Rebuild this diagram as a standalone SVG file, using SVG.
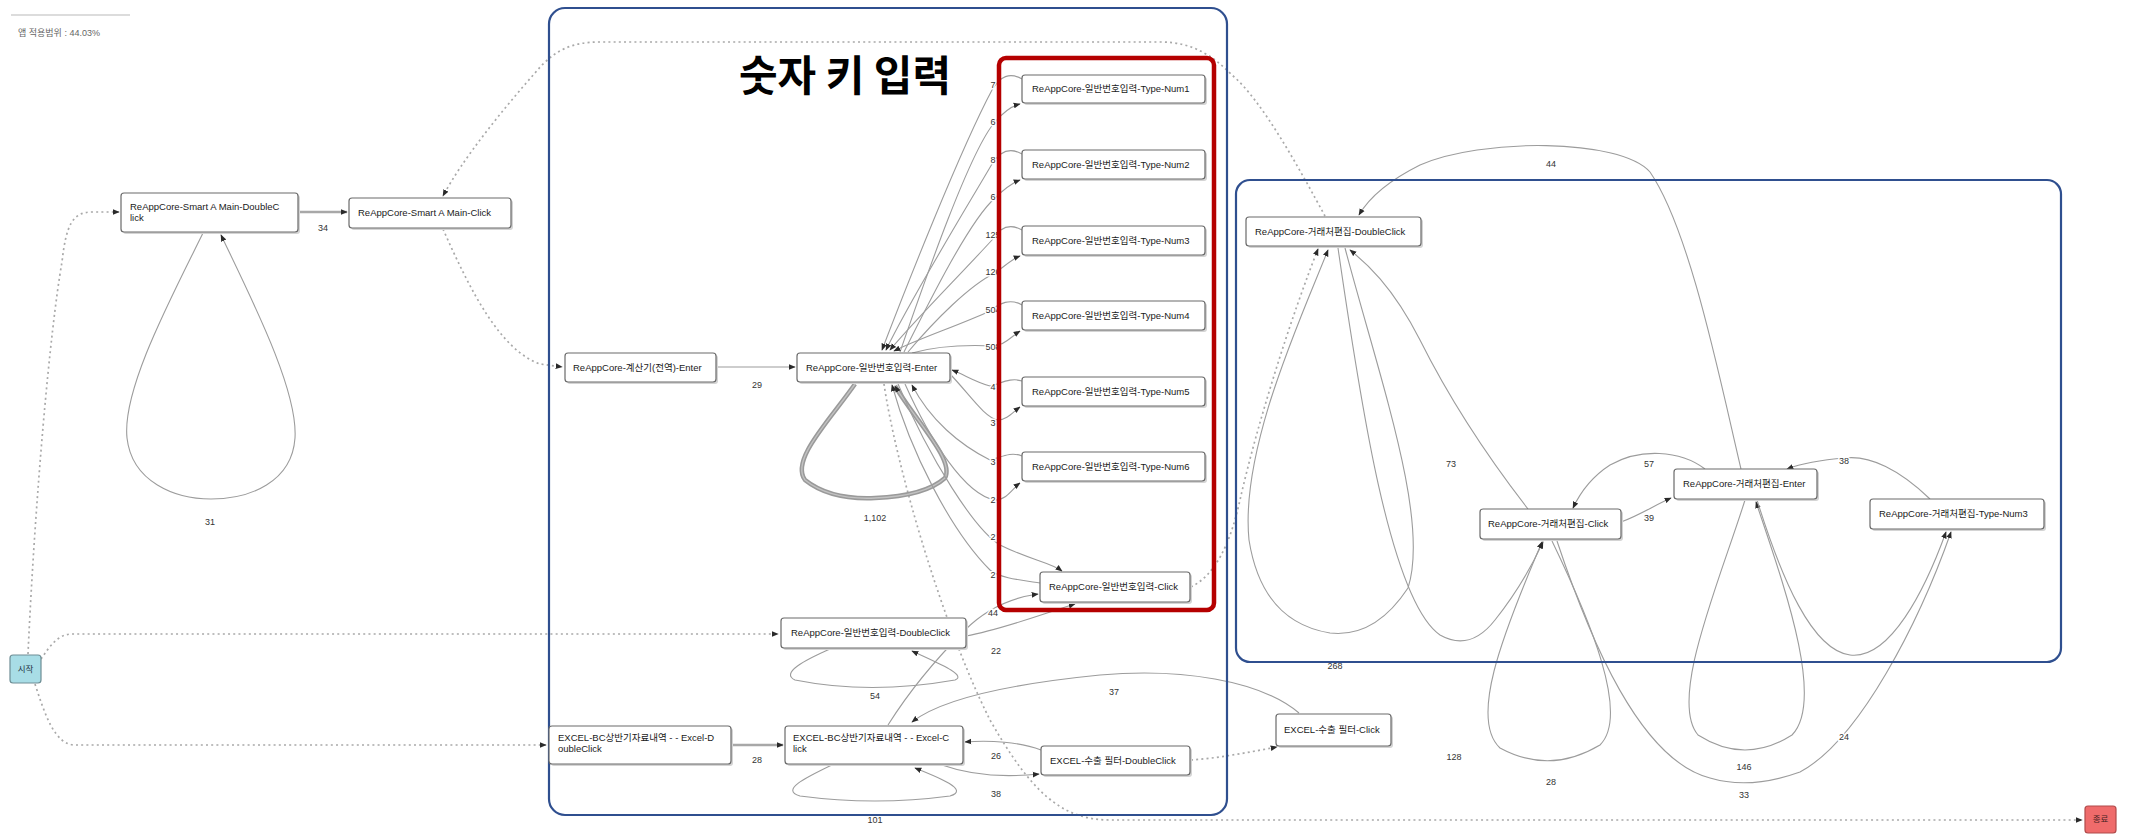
<svg xmlns="http://www.w3.org/2000/svg" width="2131" height="835" viewBox="0 0 2131 835">
<defs>
<marker id="ah" viewBox="0 0 10 10" refX="9" refY="5" markerWidth="7" markerHeight="7" markerUnits="userSpaceOnUse" orient="auto"><path d="M0,1 L10,5 L0,9 z" fill="#2a2a2a"/></marker>
<style>
.e{fill:none;stroke:#9c9c9c;stroke-width:1.1;marker-end:url(#ah)}
.ew{fill:none;stroke:#a8a8a8;stroke-width:2.6;marker-end:url(#ah)}
.d{fill:none;stroke:#a9a9a9;stroke-width:1.7;stroke-dasharray:2 3.2;marker-end:url(#ah)}
.el{font-family:"Liberation Sans","Noto Sans CJK KR",sans-serif;font-size:9px;fill:#333;text-anchor:middle;paint-order:stroke;stroke:#fff;stroke-width:3px}
.s{fill:#d4d4d4}
.b{fill:#fff;stroke:#6a6a6a;stroke-width:1.2}
.nt{font-family:"Liberation Sans","Noto Sans CJK KR",sans-serif;font-size:9.5px;fill:#1a1a1a}
.frame{fill:none;stroke:#2f4f8f;stroke-width:2.2}
</style>
</defs>
<rect width="2131" height="835" fill="#fff"/>
<line x1="11" y1="15" x2="130" y2="15" stroke="#dcdcdc" stroke-width="2"/>
<text x="18" y="36" font-family="Liberation Sans, Noto Sans CJK KR, sans-serif" font-size="9" fill="#666">앱 적용범위 : 44.03%</text>

<g id="connectors">
<path class="d" d="M28,654 C35,500 50,330 62,262 C66,226 72,212 92,212 L119,212"/>
<path class="d" d="M41,659 C50,646 58,634 72,634 L778,634"/>
<path class="d" d="M35,684 C45,715 55,745 75,745 L546,745"/>
<path class="d" d="M443,229 C470,290 500,350 540,364 L562,367"/>
<path class="d" d="M1325,216 C1300,170 1262,100 1232,75 C1212,55 1192,42 1160,42 L600,42 C572,42 557,50 542,65 C502,110 462,160 443,196"/>
<path class="d" d="M1191,587 C1215,575 1230,545 1240,500 C1258,420 1292,315 1318,249"/>
<path class="d" d="M884,384 C895,460 940,620 990,720 C1030,790 1060,820 1110,820 L2082,820"/>
<path class="d" d="M1191,760 C1220,758 1250,752 1277,747"/>

<path class="ew" d="M298,212 L347,212"/>
<path class="e" d="M203,233 C170,300 122,390 127,438 C132,482 175,499 211,499 C250,499 292,482 295,438 C298,390 252,300 221,235"/>
<path class="e" d="M716,367 L795,367"/>

<path d="M855,384 C830,420 790,460 805,480 Q830,500 875,498 Q925,496 945,478 C955,460 915,420 895,386" fill="none" stroke="#9a9a9a" stroke-width="4.5"/>
<path d="M855,384 C830,420 790,460 805,480 Q830,500 875,498 Q925,496 945,478 C955,460 915,420 895,386" fill="none" stroke="#c2c2c2" stroke-width="1.4" marker-end="url(#ah)"/>

<path class="e" d="M1022,79 C1010,72 1000,76 992,90 C960,150 905,290 882,350"/>
<path class="e" d="M900,352 C925,280 970,150 995,122 C1005,110 1012,106 1020,104"/>
<path class="e" d="M1022,154 C1010,147 1000,151 992,164 C965,210 910,300 886,350"/>
<path class="e" d="M904,352 C930,300 970,220 995,198 C1005,188 1012,183 1020,180"/>
<path class="e" d="M1022,230 C1010,223 1000,227 992,240 C960,275 915,320 890,350"/>
<path class="e" d="M908,352 C935,320 970,285 995,273 C1005,266 1012,259 1020,256"/>
<path class="e" d="M1022,305 C1010,298 1000,303 990,311 C960,325 920,338 894,351"/>
<path class="e" d="M912,353 C940,345 975,345 995,346 C1005,345 1012,336 1020,331"/>
<path class="e" d="M1022,381 C1010,377 1000,384 990,386 C975,382 965,375 952,370"/>
<path class="e" d="M951,375 C970,395 985,418 998,420 C1007,420 1013,412 1020,407"/>
<path class="e" d="M1022,456 C1010,451 1000,458 990,460 C960,445 930,420 912,385"/>
<path class="e" d="M905,384 C930,440 965,495 995,500 C1007,500 1013,488 1020,483"/>
<path class="e" d="M898,384 C930,460 975,530 1000,545 C1030,560 1050,562 1062,571"/>
<path class="e" d="M1040,583 C1020,580 1000,578 990,570 C950,530 910,450 892,385"/>
<path class="e" d="M888,725 C910,690 940,655 965,630 C985,610 1010,598 1038,594"/>
<path class="e" d="M966,636 C1000,630 1040,615 1075,604"/>
<path class="e" d="M830,649 C805,660 780,673 795,680 Q870,695 955,680 C968,675 935,662 912,651"/>
<path class="ew" d="M731,745 L783,745"/>
<path class="e" d="M832,765 C805,778 780,790 800,796 Q875,806 950,796 C970,790 940,778 915,768"/>
<path class="e" d="M1299,713 C1260,680 1180,668 1100,675 C1000,685 940,700 912,722"/>
<path class="e" d="M1041,750 C1020,742 990,740 965,742"/>
<path class="e" d="M942,765 C970,775 1000,778 1039,774"/>

<path class="e" d="M1741,469 C1720,380 1690,230 1650,172 C1620,138 1480,138 1420,165 C1390,180 1370,196 1359,215"/>
<path class="e" d="M1345,248 C1380,380 1430,520 1408,588 Q1375,638 1330,633 Q1262,622 1249,540 C1240,450 1300,320 1328,250"/>
<path class="e" d="M1528,509 C1490,460 1450,400 1420,340 C1392,285 1365,262 1350,250"/>
<path class="e" d="M1338,248 C1360,400 1390,600 1440,635 Q1470,652 1495,620 C1515,595 1530,570 1543,542"/>
<path class="e" d="M1705,469 C1680,450 1640,448 1610,465 C1590,478 1580,493 1573,508"/>
<path class="e" d="M1621,522 C1640,515 1655,505 1671,498"/>
<path class="e" d="M1930,499 C1900,470 1870,455 1845,458 C1820,460 1800,464 1787,469"/>
<path class="e" d="M1745,500 C1720,580 1668,700 1698,735 Q1745,765 1792,735 C1826,700 1782,580 1756,502"/>
<path class="e" d="M1757,500 C1782,580 1812,650 1850,655 C1890,660 1925,590 1946,532"/>
<path class="e" d="M1557,541 C1590,640 1640,760 1710,778 Q1750,790 1800,772 C1860,740 1920,620 1951,532"/>
<path class="e" d="M1552,541 C1590,620 1630,715 1600,745 Q1550,775 1500,748 C1470,720 1500,640 1542,542"/>
</g>

<g id="edge-labels">
<text class="el" x="323" y="231">34</text>
<text class="el" x="210" y="525">31</text>
<text class="el" x="757" y="388">29</text>
<text class="el" x="875" y="521">1,102</text>
<text class="el" x="993" y="88">7</text>
<text class="el" x="993" y="125">6</text>
<text class="el" x="993" y="163">8</text>
<text class="el" x="993" y="200">6</text>
<text class="el" x="993" y="238">125</text>
<text class="el" x="993" y="275">126</text>
<text class="el" x="993" y="313">504</text>
<text class="el" x="993" y="350">508</text>
<text class="el" x="993" y="390">4</text>
<text class="el" x="993" y="426">3</text>
<text class="el" x="993" y="465">3</text>
<text class="el" x="993" y="503">2</text>
<text class="el" x="993" y="540">2</text>
<text class="el" x="993" y="578">2</text>
<text class="el" x="993" y="616">44</text>
<text class="el" x="996" y="654">22</text>
<text class="el" x="875" y="699">54</text>
<text class="el" x="757" y="763">28</text>
<text class="el" x="996" y="759">26</text>
<text class="el" x="996" y="797">38</text>
<text class="el" x="875" y="823">101</text>
<text class="el" x="1114" y="695">37</text>
<text class="el" x="1551" y="167">44</text>
<text class="el" x="1451" y="467">73</text>
<text class="el" x="1649" y="467">57</text>
<text class="el" x="1649" y="521">39</text>
<text class="el" x="1844" y="464">38</text>
<text class="el" x="1335" y="669">268</text>
<text class="el" x="1454" y="760">128</text>
<text class="el" x="1551" y="785">28</text>
<text class="el" x="1744" y="770">146</text>
<text class="el" x="1744" y="798">33</text>
<text class="el" x="1844" y="740">24</text>
</g>

<g id="frames">
<rect class="frame" x="549" y="8" width="678" height="807" rx="16"/>
<rect class="frame" x="1236" y="180" width="825" height="482" rx="14"/>
<rect x="999" y="58" width="215" height="552" rx="7" fill="none" stroke="#b50000" stroke-width="4.5"/>
<text x="739" y="91" font-family="Noto Sans CJK KR, sans-serif" font-weight="700" font-size="42" textLength="212" lengthAdjust="spacingAndGlyphs" fill="#000">숫자 키 입력</text>
</g>

<g id="n-start"><rect x="10" y="655" width="31" height="28" rx="3" fill="#a8dde6" stroke="#6e8e95" stroke-width="1.2"/><text x="25.5" y="672" text-anchor="middle" font-family="Noto Sans CJK KR, sans-serif" font-size="8.5" fill="#234">시작</text></g>
<g id="n-end"><rect x="2085" y="806" width="31" height="27" rx="3" fill="#ef6b6b" stroke="#b04a4a" stroke-width="1.2"/><text x="2100.5" y="822" text-anchor="middle" font-family="Noto Sans CJK KR, sans-serif" font-size="8.5" fill="#422">종료</text></g>

<g id="n-smart-dbl"><rect class="s" x="123" y="195" width="177" height="39" rx="3"/><rect class="b" x="121" y="193" width="177" height="39" rx="3"/><text class="nt" x="130" y="210">ReAppCore-Smart A Main-DoubleC</text><text class="nt" x="130" y="221">lick</text></g>
<g id="n-smart-click"><rect class="s" x="351" y="200" width="162" height="30" rx="3"/><rect class="b" x="349" y="198" width="162" height="30" rx="3"/><text class="nt" x="358" y="216">ReAppCore-Smart A Main-Click</text></g>
<g id="n-calc-enter"><rect class="s" x="567" y="355" width="151" height="29" rx="3"/><rect class="b" x="565" y="353" width="151" height="29" rx="3"/><text class="nt" x="573" y="371">ReAppCore-계산기(전역)-Enter</text></g>
<g id="n-num-enter"><rect class="s" x="799" y="355" width="153" height="29" rx="3"/><rect class="b" x="797" y="353" width="153" height="29" rx="3"/><text class="nt" x="806" y="371">ReAppCore-일반번호입력-Enter</text></g>
<g id="n-num1"><rect class="s" x="1024" y="77" width="183" height="28" rx="3"/><rect class="b" x="1022" y="75" width="183" height="28" rx="3"/><text class="nt" x="1032" y="92">ReAppCore-일반번호입력-Type-Num1</text></g>
<g id="n-num2"><rect class="s" x="1024" y="152" width="183" height="29" rx="3"/><rect class="b" x="1022" y="150" width="183" height="29" rx="3"/><text class="nt" x="1032" y="168">ReAppCore-일반번호입력-Type-Num2</text></g>
<g id="n-num3"><rect class="s" x="1024" y="228" width="183" height="29" rx="3"/><rect class="b" x="1022" y="226" width="183" height="29" rx="3"/><text class="nt" x="1032" y="244">ReAppCore-일반번호입력-Type-Num3</text></g>
<g id="n-num4"><rect class="s" x="1024" y="303" width="183" height="29" rx="3"/><rect class="b" x="1022" y="301" width="183" height="29" rx="3"/><text class="nt" x="1032" y="319">ReAppCore-일반번호입력-Type-Num4</text></g>
<g id="n-num5"><rect class="s" x="1024" y="379" width="183" height="29" rx="3"/><rect class="b" x="1022" y="377" width="183" height="29" rx="3"/><text class="nt" x="1032" y="395">ReAppCore-일반번호입력-Type-Num5</text></g>
<g id="n-num6"><rect class="s" x="1024" y="454" width="183" height="29" rx="3"/><rect class="b" x="1022" y="452" width="183" height="29" rx="3"/><text class="nt" x="1032" y="470">ReAppCore-일반번호입력-Type-Num6</text></g>
<g id="n-num-click"><rect class="s" x="1042" y="574" width="150" height="30" rx="3"/><rect class="b" x="1040" y="572" width="150" height="30" rx="3"/><text class="nt" x="1049" y="590">ReAppCore-일반번호입력-Click</text></g>
<g id="n-num-dbl"><rect class="s" x="783" y="620" width="185" height="30" rx="3"/><rect class="b" x="781" y="618" width="185" height="30" rx="3"/><text class="nt" x="791" y="636">ReAppCore-일반번호입력-DoubleClick</text></g>
<g id="n-xl-dbl"><rect class="s" x="551" y="728" width="182" height="38" rx="3"/><rect class="b" x="549" y="726" width="182" height="38" rx="3"/><text class="nt" x="558" y="741">EXCEL-BC상반기자료내역 - - Excel-D</text><text class="nt" x="558" y="752">oubleClick</text></g>
<g id="n-xl-click"><rect class="s" x="787" y="728" width="178" height="38" rx="3"/><rect class="b" x="785" y="726" width="178" height="38" rx="3"/><text class="nt" x="793" y="741">EXCEL-BC상반기자료내역 - - Excel-C</text><text class="nt" x="793" y="752">lick</text></g>
<g id="n-filter-dbl"><rect class="s" x="1043" y="748" width="149" height="29" rx="3"/><rect class="b" x="1041" y="746" width="149" height="29" rx="3"/><text class="nt" x="1050" y="764">EXCEL-수출 필터-DoubleClick</text></g>
<g id="n-filter-click"><rect class="s" x="1278" y="716" width="115" height="32" rx="3"/><rect class="b" x="1276" y="714" width="115" height="32" rx="3"/><text class="nt" x="1284" y="733">EXCEL-수출 필터-Click</text></g>
<g id="n-cust-dbl"><rect class="s" x="1248" y="219" width="175" height="29" rx="3"/><rect class="b" x="1246" y="217" width="175" height="29" rx="3"/><text class="nt" x="1255" y="235">ReAppCore-거래처편집-DoubleClick</text></g>
<g id="n-cust-click"><rect class="s" x="1482" y="511" width="141" height="30" rx="3"/><rect class="b" x="1480" y="509" width="141" height="30" rx="3"/><text class="nt" x="1488" y="527">ReAppCore-거래처편집-Click</text></g>
<g id="n-cust-enter"><rect class="s" x="1676" y="471" width="143" height="30" rx="3"/><rect class="b" x="1674" y="469" width="143" height="30" rx="3"/><text class="nt" x="1683" y="487">ReAppCore-거래처편집-Enter</text></g>
<g id="n-cust-num3"><rect class="s" x="1872" y="501" width="174" height="30" rx="3"/><rect class="b" x="1870" y="499" width="174" height="30" rx="3"/><text class="nt" x="1879" y="517">ReAppCore-거래처편집-Type-Num3</text></g>
</svg>
